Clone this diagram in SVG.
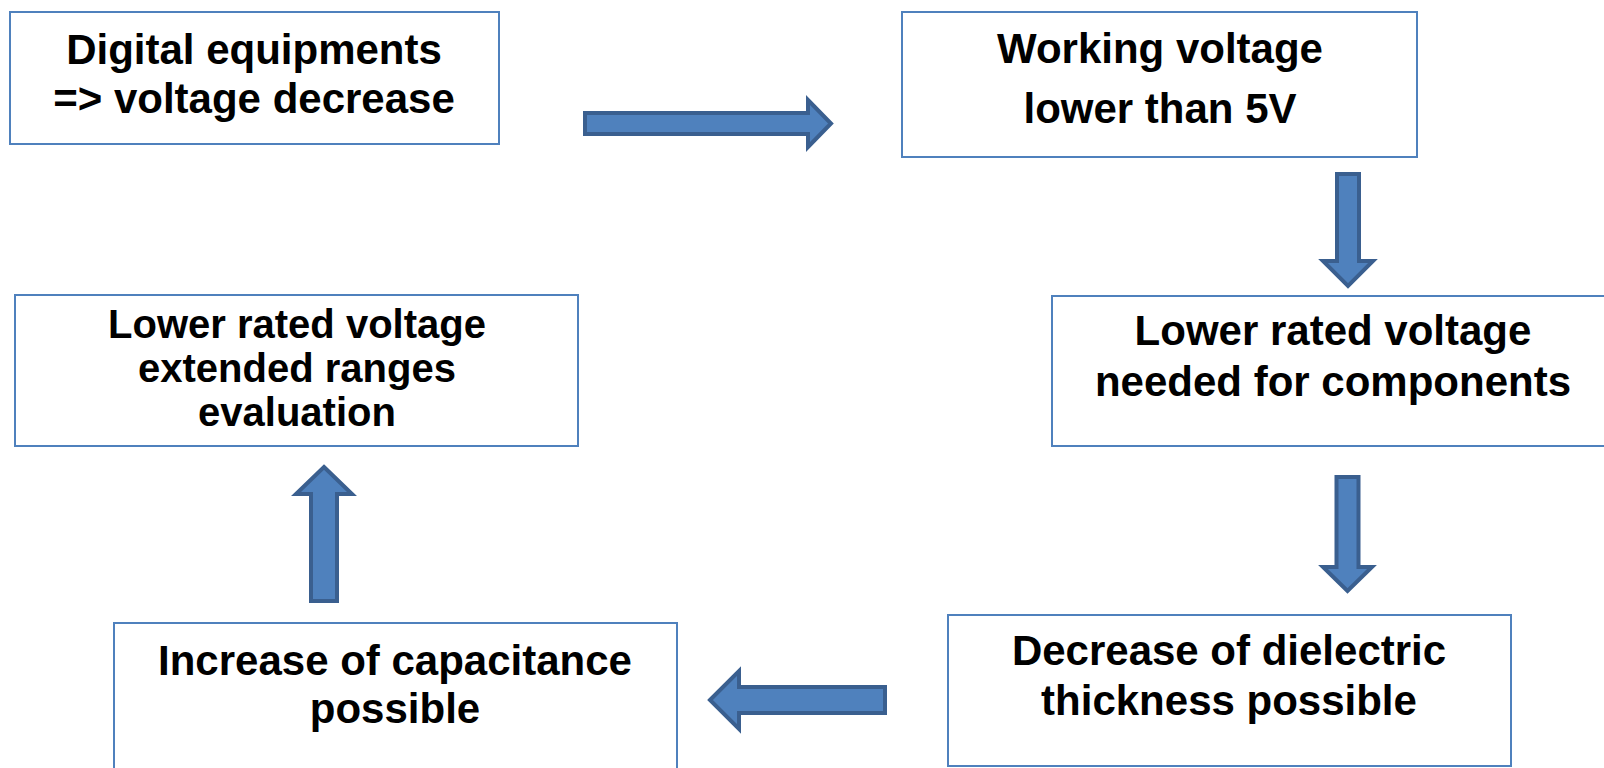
<svg xmlns="http://www.w3.org/2000/svg" width="1604" height="768" viewBox="0 0 1604 768">
<style>
.box{fill:#ffffff;stroke:#4F81BD;stroke-width:2}
.arr{fill:#4F81BD;stroke:#3A5F8F;stroke-width:4;stroke-linejoin:miter}
.t{font-family:"Liberation Sans",Arial,sans-serif;font-weight:bold;font-size:42px;fill:#000000;text-anchor:middle}
.s{font-size:40px}
</style>
<rect width="1604" height="768" fill="#ffffff"/>
<g id="n1">
<rect class="box" x="10" y="12" width="489" height="132"/>
<text class="t" x="254" y="64">Digital equipments</text>
<text class="t" x="254" y="113">=&gt; voltage decrease</text>
</g>
<g id="n2">
<rect class="box" x="902" y="12" width="515" height="145"/>
<text class="t" x="1160" y="63">Working voltage</text>
<text class="t" x="1160" y="123">lower than 5V</text>
</g>
<g id="n3">
<rect class="box" x="1052" y="296" width="570" height="150"/>
<text class="t" x="1333" y="345">Lower rated voltage</text>
<text class="t" x="1333" y="396">needed for components</text>
</g>
<g id="n4">
<rect class="box" x="15" y="295" width="563" height="151"/>
<text class="t s" x="297" y="338">Lower rated voltage</text>
<text class="t s" x="297" y="382">extended ranges</text>
<text class="t s" x="297" y="426">evaluation</text>
</g>
<g id="n5">
<rect class="box" x="114" y="623" width="563" height="160"/>
<text class="t" x="395" y="675">Increase of capacitance</text>
<text class="t" x="395" y="723">possible</text>
</g>
<g id="n6">
<rect class="box" x="948" y="615" width="563" height="151"/>
<text class="t" x="1229" y="665">Decrease of dielectric</text>
<text class="t" x="1229" y="715">thickness possible</text>
</g>
<g id="connectors">
<path class="arr" d="M585,113 L808,113 L808,100 L831,123.5 L808,147 L808,134 L585,134 Z"/>
<path class="arr" d="M1337,174 L1359,174 L1359,261 L1373,261 L1348,286 L1323,261 L1337,261 Z"/>
<path class="arr" d="M1336.5,477 L1358.5,477 L1358.5,567 L1372,567 L1347.5,591 L1323,567 L1336.5,567 Z"/>
<path class="arr" d="M710,700 L739,671 L739,687 L885,687 L885,713 L739,713 L739,729 Z"/>
<path class="arr" d="M324,467 L352,494 L337,494 L337,601 L311,601 L311,494 L296,494 Z"/>
</g>
</svg>
